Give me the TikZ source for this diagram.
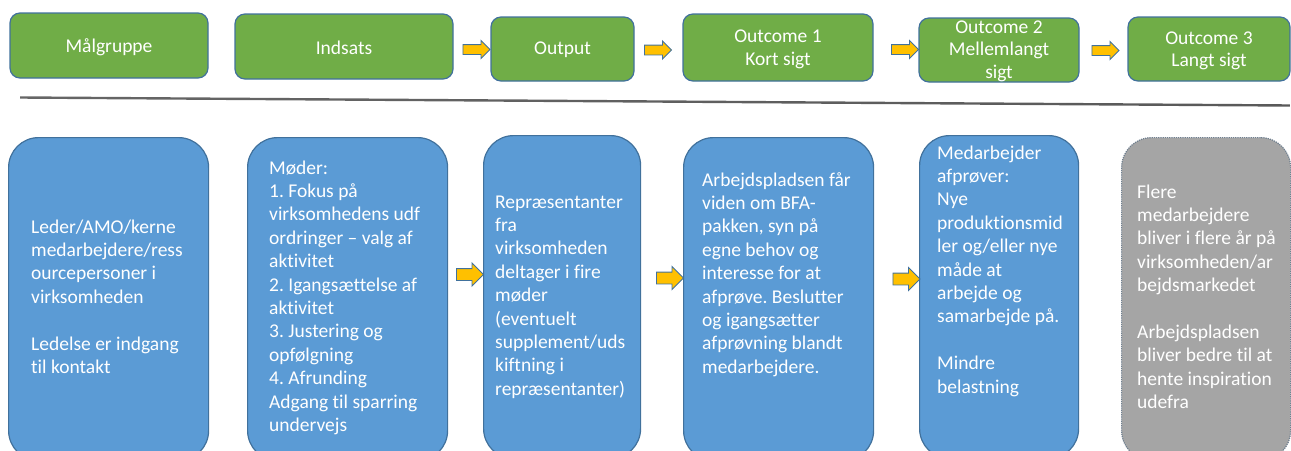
\documentclass[tikz,border=0pt]{standalone}
\usepackage{fontspec}
\setmainfont{Carlito}[Ligatures=NoCommon]
\usetikzlibrary{shapes.arrows}
\definecolor{gfill}{HTML}{70AD47}
\definecolor{bfill}{HTML}{5B9BD5}
\definecolor{bline}{HTML}{41719C}
\definecolor{grfill}{HTML}{A5A5A5}
\definecolor{grline}{HTML}{6F7F8F}
\definecolor{yfill}{HTML}{FFC000}
\frenchspacing
\begin{document}
\begin{tikzpicture}[x=1pt,y=-1pt,
  gbox/.style={draw=bline, line width=1.2pt, fill=gfill, rounded corners=10pt, inner sep=0pt},
  bbox/.style={draw=bline, line width=1.2pt, fill=bfill, rounded corners=30pt, inner sep=0pt, minimum height=323pt},
  greybox/.style={draw=grline, densely dotted, line width=1.2pt, fill=grfill, rounded corners=30pt, inner sep=0pt, minimum height=323pt},
  ttxt/.style={text=white, align=center, inner sep=0pt, font=\fontsize{19.5}{22.5}\selectfont},
  btxt/.style={text=white, align=left, inner sep=0pt, anchor=north west, font=\fontsize{19.5}{23.4}\selectfont},
  tarrow/.style={single arrow, draw=bline, fill=yfill, line width=0.9pt, inner xsep=0pt, inner ysep=4.5pt,
    minimum width=17pt, minimum height=27pt, single arrow head extend=4pt, single arrow head indent=0pt},
  barrow/.style={tarrow, inner ysep=5.5pt, minimum width=22pt, single arrow head extend=5.5pt}
]
\useasboundingbox (0,0) rectangle (1291,450);
\clip (0,0) rectangle (1291,450);

% top row
\node[gbox, minimum width=198pt, minimum height=65pt] (m)  at (109,45.5) {};
\node[gbox, minimum width=218pt, minimum height=65pt] (i)  at (344,46.5) {};
\node[gbox, minimum width=143pt, minimum height=64pt] (o)  at (562.5,49) {};
\node[gbox, minimum width=190pt, minimum height=67pt] (o1) at (778,47.5) {};
\node[gbox, minimum width=160pt, minimum height=64pt] (o2) at (999,50) {};
\node[gbox, minimum width=162pt, minimum height=64pt] (o3) at (1209,49) {};

\node[ttxt] (tm)  at ([yshift=-2pt]m.center)  {Målgruppe};
\node[ttxt] (ti)  at ([yshift=-1pt]i.center)  {Indsats};
\node[ttxt] (to)  at ([yshift=-1pt]o.center)  {Output};
\node[ttxt] (to1) at ([yshift=-2pt]o1.center) {Outcome 1\\Kort sigt};
\node[ttxt] (to2) at ([yshift=-1pt]o2.center) {Outcome 2\\Mellemlangt\\sigt};
\node[ttxt] (to3) at ([yshift=-2pt]o3.center) {Outcome 3\\Langt sigt};

\node[tarrow] (a1) at (474,49.5) {};
\node[tarrow] (a2) at (655.5,50) {};
\node[tarrow] (a3) at (902.5,49.5) {};
\node[tarrow] (a4) at (1103,50.5) {};

% separator
\coordinate (sl) at (20,97.5);
\coordinate (sr) at (1290,105.5);
\shade[left color=black!60, middle color=black, right color=black!65]
  (20,96.3) -- (1290,104.3) -- (1290,106.7) -- (20,98.7) -- cycle;

% bottom row
\node[bbox, minimum width=200pt, anchor=north west] (b1) at (8,137) {};
\node[bbox, minimum width=200pt, anchor=north west] (b2) at (247,137) {};
\node[bbox, minimum width=157pt, anchor=north west] (b3) at (483,135) {};
\node[bbox, minimum width=190pt, anchor=north west] (b4) at (683,137) {};
\node[bbox, minimum width=159pt, anchor=north west] (b5) at (919,135) {};
\node[greybox, minimum width=169pt, anchor=north west] (b6) at (1121,137) {};

\node[barrow] (c1) at (467,274.5) {};
\node[barrow] (c2) at (667,278) {};
\node[barrow] (c3) at (903.5,279) {};

\node[btxt] (t1) at (31,216.6) {\strut Leder/AMO/kerne\\medarbejdere/ress\\ourcepersoner i\\virksomheden\\[23.4pt]Ledelse er indgang\\til kontakt};
\node[btxt] (t2) at (269,157.6) {\strut Møder:\\1. Fokus på\\virksomhedens udf\\ordringer – valg af\\aktivitet\\2. Igangsættelse af\\aktivitet\\3. Justering og\\opfølgning\\4. Afrunding\\Adgang til sparring\\undervejs};
\node[btxt] (t3) at (495,191.6) {\strut Repræsentanter\\fra\\virksomheden\\deltager i fire\\møder\\(eventuelt\\supplement/uds\\kiftning i\\repræsentanter)};
\node[btxt] (t4) at (702,169.6) {\strut Arbejdspladsen får\\viden om BFA-\\pakken, syn på\\egne behov og\\interesse for at\\afprøve. Beslutter\\og igangsætter\\afprøvning blandt\\medarbejdere.};
\node[btxt] (t5) at (937,142.6) {\strut Medarbejder\\afprøver:\\Nye\\produktionsmid\\ler og/eller nye\\måde at\\arbejde og\\samarbejde på.\\[23.4pt]Mindre\\belastning};
\node[btxt] (t6) at (1137,181.6) {\strut Flere\\medarbejdere\\bliver i flere år på\\virksomheden/ar\\bejdsmarkedet\\[23.4pt]Arbejdspladsen\\bliver bedre til at\\hente inspiration\\udefra};
\end{tikzpicture}
\end{document}
